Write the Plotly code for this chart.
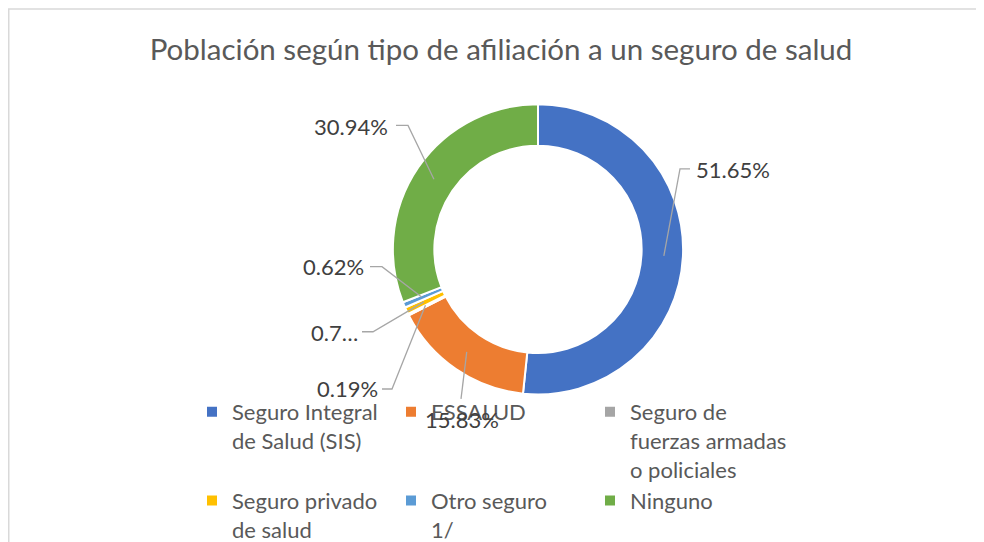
import math
import plotly.graph_objects as go

# datos
categorias = [
    "Seguro Integral<br>de Salud (SIS)",
    "ESSALUD",
    "Seguro de<br>fuerzas armadas<br>o policiales",
    "Seguro privado<br>de salud",
    "Otro seguro<br>1/",
    "Ninguno",
]
porcentajes = [51.65, 15.83, 0.19, 0.77, 0.62, 30.94]
colores = ["#4472C4", "#ED7D31", "#A5A5A5", "#FFC000", "#5B9BD5", "#70AD47"]
titulo = "Población según tipo de afiliación a un seguro de salud"

# geometria (pixeles de la captura; la pagina deja 8px de margen)
W, H = 984, 542
OFF = 8
ML, MR = 180, 184
GW = W - ML - MR
CX, CY, R, R_IN = 538, 252.5, 147, 105


def px(x):
    return (x - OFF - ML) / GW


def py(y):
    return 1 - (y - OFF) / H


# etiquetas a la Excel: posicion del texto y del codo de la linea guia
etiqueta_pos = [(694, 172, "left"), (462, 425, "center"), (380, 393, "right"),
                (360, 337, "right"), (366, 270, "right"), (390, 128, "right")]
guia_ini = [(690, 171), (461, 404), (382, 394), (362, 336), (370, 270), (396, 127)]
guia_codo = [(680, 171), None, (392, 394), (373, 336), (382, 270), (408, 127)]

textos = [f"{v:.2f}%" for v in porcentajes]
textos[3] = textos[3][:3] + "…"  # Excel recorta esta etiqueta

fig = go.Figure(go.Pie(
    labels=categorias, values=porcentajes, sort=False, direction="clockwise",
    rotation=0, hole=R_IN / R, textinfo="none", hoverinfo="label+percent",
    marker=dict(colors=colores, line=dict(color="white", width=2)),
    domain=dict(x=[px(CX - R), px(CX + R)], y=[py(CY + R), py(CY - R)]),
))

shapes = [dict(type="rect", xref="paper", yref="paper", x0=px(OFF + 0.75), y0=py(OFF + 1),
               x1=px(1010), y1=py(600), line=dict(color="#D9D9D9", width=1.5),
               layer="below")]
annotations = []
total = sum(porcentajes)
acum = 0
r_mid = (R + R_IN) / 2
for i, v in enumerate(porcentajes):
    ang = (acum + v / 2) / total * 2 * math.pi
    acum += v
    ex, ey = CX + r_mid * math.sin(ang), CY - r_mid * math.cos(ang)
    pts = [guia_ini[i]] + ([guia_codo[i]] if guia_codo[i] else []) + [(ex, ey)]
    path = "M " + " L ".join(f"{px(a)},{py(b)}" for a, b in pts)
    shapes.append(dict(type="path", xref="paper", yref="paper", path=path,
                       line=dict(color="#A6A6A6", width=1.3), layer="above"))
    tx, ty, anc = etiqueta_pos[i]
    annotations.append(dict(x=px(tx), y=py(ty), xref="paper", yref="paper",
                            text=textos[i], showarrow=False, xanchor=anc,
                            yanchor="middle", font=dict(size=22, color="#404040")))

fig.update_layout(
    width=W, height=H,
    margin=dict(l=ML, r=MR, t=0, b=0),
    paper_bgcolor="white", plot_bgcolor="white",
    font=dict(family="Lato, Open Sans, sans-serif", color="#595959"),
    title=dict(text=titulo, x=(501 - OFF) / W, y=1 - (50 - OFF) / H, xref="container",
               yref="container", xanchor="center", yanchor="middle",
               font=dict(size=29.5, color="#595959")),
    legend=dict(orientation="h", x=px(192), y=py(396), xanchor="left",
                yanchor="top", entrywidth=154, entrywidthmode="pixels",
                valign="top", font=dict(size=22, color="#595959"),
                bgcolor="rgba(0,0,0,0)"),
    shapes=shapes, annotations=annotations,
)

fig.write_html("out.html")
